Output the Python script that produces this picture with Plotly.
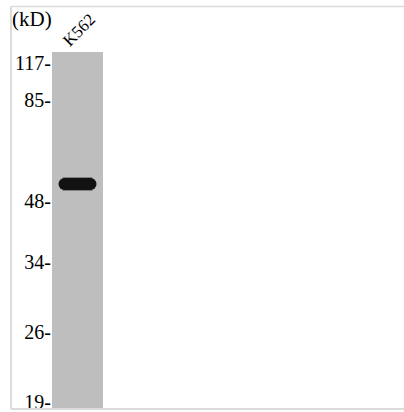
import plotly.graph_objects as go

# ---- data read from the blot ----
marker_kd = [117, 85, 48, 34, 26, 19]            # ladder sizes (kD)
marker_pos = [63, 100, 201, 262, 332, 402]       # migration position (px from top)
lane_names = ["K562"]
lane_center = [77.5]                             # lane centre (px)
lane_top = [52]
lane_bottom = [408]
band_pos = [184]                                 # band migration position (px)
band_half = [13]                                 # half length of band core (px)

W, H = 404, 412
serif = "Liberation Serif, Times New Roman, serif"

fig = go.Figure()

# lane
fig.add_trace(go.Bar(
    x=lane_center, y=[b - t for b, t in zip(lane_bottom, lane_top)], base=lane_top,
    width=51, marker=dict(color="#bebebe", line=dict(width=0)),
    hoverinfo="skip", showlegend=False))

# band (capsule: thick line + round ends)
for c, p, h in zip(lane_center, band_pos, band_half):
    fig.add_trace(go.Scatter(
        x=[c - h - 2, c + h + 2], y=[p, p], mode="lines",
        line=dict(color="rgba(18,18,18,0.35)", width=14),
        hoverinfo="skip", showlegend=False))
    fig.add_trace(go.Scatter(
        x=[c - h, c + h], y=[p, p], mode="lines+markers",
        line=dict(color="#121212", width=12),
        marker=dict(color="#121212", size=12, line=dict(width=0)),
        hoverinfo="skip", showlegend=False))

# lane label
for c, n in zip(lane_center, lane_names):
    fig.add_annotation(x=c + 1, y=30, text=n, textangle=-45, showarrow=False,
                       font=dict(family=serif, size=17, color="#000"),
                       xref="x", yref="y")

fig.add_annotation(x=10 / W, y=19, xref="paper", yref="y", text="(kD)", showarrow=False,
                   xanchor="left", font=dict(family=serif, size=21, color="#000"))

# frame
fig.add_shape(type="line", xref="paper", yref="paper", x0=11/W, x1=1, y0=1-6.5/H, y1=1-6.5/H,
              line=dict(color="#dcdcdc", width=1.5))
fig.add_shape(type="line", xref="paper", yref="paper", x0=11/W, x1=1, y0=1-409/H, y1=1-409/H,
              line=dict(color="#dcdcdc", width=2))
fig.add_shape(type="line", xref="paper", yref="paper", x0=11/W, x1=11/W, y0=1-409/H, y1=1-6.5/H,
              line=dict(color="#dcdcdc", width=2))

fig.update_layout(
    width=W, height=H, margin=dict(l=0, r=0, t=0, b=0),
    paper_bgcolor="white", plot_bgcolor="white",
    xaxis=dict(domain=[52/W, 1], range=[52, W], visible=False, fixedrange=True),
    yaxis=dict(range=[H, 0], tickvals=marker_pos,
               ticktext=[f"{k}-" for k in marker_kd],
               tickfont=dict(family=serif, size=20, color="#000"),
               ticks="", showgrid=False, zeroline=False, showline=False,
               ticklabelstandoff=0, ticklabeloverflow="allow", fixedrange=True),
    bargap=0,
)

fig.write_html("out.html", config={"displayModeBar": False},
               post_script="document.body.style.margin='0';document.body.style.overflow='hidden';")
